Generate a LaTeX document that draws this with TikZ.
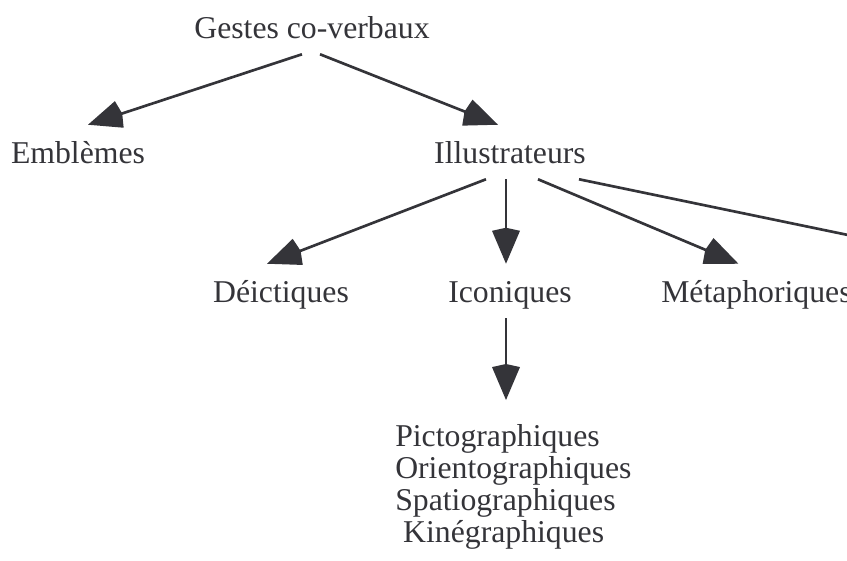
\documentclass[tikz,border=0pt]{standalone}
\usepackage{fontspec}
\setmainfont{Liberation Serif}
\usetikzlibrary{arrows.meta,calc}

\definecolor{encre}{RGB}{52,52,57}

\begin{document}
\begin{tikzpicture}[
  x=0.75pt, y=-0.75pt,
  mot/.style={text=encre, inner sep=0pt, text height=28.5pt, text depth=12pt,
    anchor=base, font=\fontsize{23.8pt}{24pt}\selectfont},
  liste/.style={text=encre, inner xsep=0pt, inner ysep=18pt, align=left,
    anchor=north west, font=\fontsize{23.8pt}{24pt}\selectfont},
  fleche/.style={draw=encre, line width=2pt,
    -{Kite[length=27pt,width=21pt,inset=2.3pt]}}
]
  \useasboundingbox (0,0) rectangle (847,561);
  \clip (0,0) rectangle (847,561);

  \node[mot] (gestes) at (312,38) {Gestes co-verbaux};
  \node[mot] (emblemes) at (78,163) {Emblèmes};
  \node[mot] (illustr) at (510,163) {Illustrateurs};
  \node[mot] (deictiques) at (281,302) {Déictiques};
  \node[mot] (iconiques) at (510,302) {Iconiques};
  \node[mot, anchor=base west] (metaph) at (661,302) {Métaphoriques};
  \node[liste] (sousicon) at (395,400) {Pictographiques\\Orientographiques\\
    Spatiographiques\\\hspace{0.25em}Kinégraphiques};
  \coordinate (horscadre) at (988,264);

  \draw[fleche] ($(gestes.south)+(-10,0)$) -- ($(emblemes.north)+(10,0)$);
  \draw[fleche] ($(gestes.south)+(8,0)$) -- ($(illustr.north)+(-12,0)$);
  \draw[fleche] ($(illustr.south)+(-24,0)$) -- ($(deictiques.north)+(-14,0)$);
  \draw[fleche] ($(illustr.south)+(-4,0)$) -- ($(iconiques.north)+(-4,0)$);
  \draw[fleche] ($(illustr.south)+(28,0)$) -- ($(metaph.north)+(-18,0)$);
  \draw[fleche] ($(illustr.south)+(69,0)$) -- (horscadre);
  \draw[fleche] ($(iconiques.south)+(-4,0)$) -- ($(iconiques.south |- sousicon.north)+(-4,0)$);
\end{tikzpicture}
\end{document}
